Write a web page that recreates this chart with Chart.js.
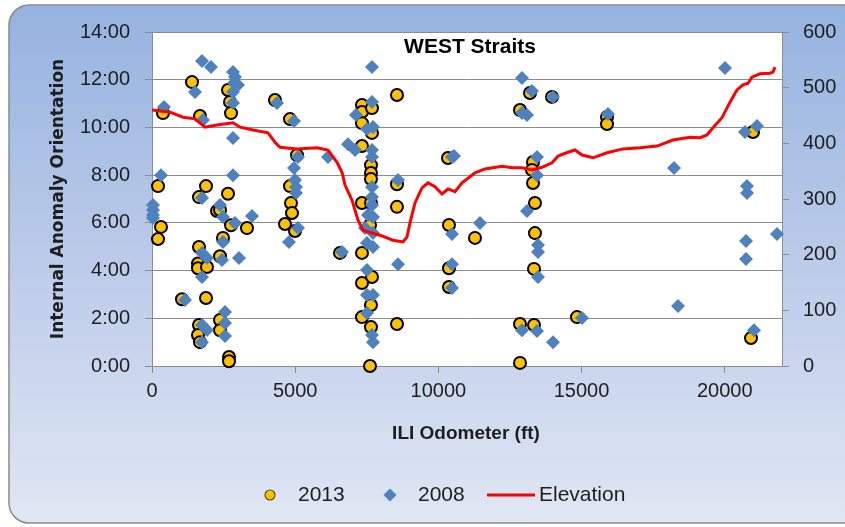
<!DOCTYPE html>
<html>
<head>
<meta charset="utf-8">
<script src="https://cdn.jsdelivr.net/npm/chart.js@4/dist/chart.umd.min.js"></script>
<style>
  html, body { margin: 0; padding: 0; background: #ffffff; }
  #wrap { width: 845px; height: 527px; }
</style>
</head>
<body>
<div id="wrap"><canvas id="c" width="845" height="527"></canvas></div>
<script>
// Anomaly orientation (clock hours) against ILI odometer (ft), 2013 inspection
const odo2013 = [384, 210, 314, 210, 1397, 1676, 1641, 1886, 1641, 1606, 1606, 1920, 1048, 1886, 1641, 1606, 1676,
  2375, 2375, 2689, 2689, 2654, 2724, 2759, 2654, 2270, 2375, 2759, 3317, 2479, 2375,
  4295, 4819, 5063, 4819, 4854, 4889, 4644, 4994, 6565,
  7333, 7333, 7682, 7333, 7682, 7333, 7647, 7647, 7647, 7333, 7647, 7613, 7333, 7682, 7333, 7647, 7333, 7647, 7613,
  8555, 8555, 8555, 8555,
  10336, 10371, 10371, 10371, 11279,
  12851, 13200, 13968, 13305, 13270, 13305, 13374, 13374, 13340, 12851, 13340, 12851, 14841,
  15889, 15889, 20987, 20917];
const orient2013 = [10.6, 7.54, 5.83, 5.32, 11.9, 10.48, 7.08, 7.54, 4.99, 4.3, 4.1, 4.15, 2.8, 2.85, 1.72, 1.3, 1.0,
  1.93, 1.5, 0.38, 0.2, 11.57, 11.07, 10.6, 7.22, 6.5, 6.54, 5.9, 5.78, 5.37, 4.6,
  11.15, 10.35, 8.84, 7.54, 6.83, 6.41, 5.95, 5.66, 4.74,
  10.94, 10.65, 10.81, 10.18, 9.77, 9.22, 8.42, 8.09, 7.84, 6.83, 6.83, 5.91, 4.74, 3.73, 3.48, 2.56, 2.05, 1.63, 0.0,
  11.36, 7.62, 6.67, 1.76,
  8.72, 5.91, 4.1, 3.31, 5.37,
  10.73, 11.44, 11.28, 8.55, 8.22, 7.67, 6.83, 5.57, 4.07, 1.76, 1.72, 0.13, 2.05,
  10.44, 10.14, 9.81, 1.17];

// 2008 inspection
const odo2008 = [35, 35, 35, 35, 314, 419, 1502, 1746, 2060, 1781, 1746, 2375, 2479, 3492, 2898, 2479, 2444, 3038,
  1746, 1921, 1746, 1152, 2549, 2549, 1746, 1921, 2549, 1746, 2829, 2898, 2863, 3003, 2829, 2829, 2829, 2829,
  4365, 4959, 5098, 4959, 4994, 5028, 5028, 5098, 4784, 6146, 6635,
  7124, 6844, 7089, 7682, 7682, 7508, 7717, 7682, 7682, 7682, 7682, 7682, 7543, 7717, 7438, 7717, 7508, 7717,
  7508, 7508, 7717, 7508, 7682, 7717,
  8590, 8590,
  10476, 10546, 10476, 10476, 10476, 11454,
  12920, 13270, 14003, 12920, 13095, 13444, 13444, 13095, 13479, 13479, 13479, 12920, 13444, 14003, 15016,
  15924, 18228, 18368, 20009, 20708, 21126, 20777, 20777, 20742, 20742, 21825, 21022];
const orient2008 = [6.75, 6.54, 6.33, 6.2, 8.0, 10.86, 11.49, 12.78, 12.53, 10.31, 7.04, 6.75, 6.25, 6.29, 5.99, 5.2, 4.44, 4.53,
  4.74, 4.53, 3.73, 2.77, 2.26, 1.8, 1.72, 1.51, 1.26, 1.0, 12.32, 12.11, 11.86, 11.78, 11.49, 11.02, 9.56, 8.0,
  11.02, 10.27, 8.76, 8.3, 7.8, 7.5, 7.25, 5.78, 5.2, 8.76, 4.78,
  10.52, 9.3, 9.05, 12.53, 11.07, 9.93, 10.02, 9.05, 8.76, 7.5, 7.08, 6.75, 6.33, 6.25, 5.78, 5.57, 5.16, 4.99,
  4.02, 2.98, 2.98, 2.22, 1.3, 1.0,
  7.8, 4.27,
  8.76, 8.8, 5.53, 4.27, 3.27, 5.99,
  12.07, 11.53, 11.28, 10.6, 10.52, 8.76, 8.0, 6.5, 5.07, 4.78, 3.73, 1.5, 1.47, 1.0, 2.01,
  10.56, 8.3, 2.51, 12.49, 9.81, 10.06, 7.54, 7.25, 5.24, 4.48, 5.53, 1.5];

// Pipeline elevation profile (ft) along the odometer
const elevOdo = [0, 629, 1083, 1502, 1851, 2270, 2829, 3073, 3527, 4051, 4295, 4470, 5063, 5762, 6146, 6460, 6635,
  6740, 6984, 7194, 7368, 7682, 7962, 8416, 8765, 8905, 9009, 9184, 9428, 9638, 9882, 10127, 10336, 10581, 10825,
  11105, 11279, 11628, 12222, 12571, 12920, 13270, 13619, 13968, 14178, 14527, 14771, 15016, 15400, 15889, 16447,
  17041, 17635, 18193, 18787, 19136, 19381, 19590, 19905, 20184, 20428, 20638, 20813, 20952, 21231, 21580, 21685, 21755];
const elevation = [460, 456, 447, 444, 429, 433, 437, 429, 424, 419, 402, 393, 390, 392, 388, 366, 348,
  325, 298, 262, 244, 239, 235, 226, 223, 232, 257, 293, 320, 329, 322, 309, 318, 313, 329,
  340, 347, 354, 359, 356, 356, 352, 357, 365, 377, 384, 388, 379, 374, 383, 390,
  392, 395, 406, 411, 410, 415, 428, 446, 474, 496, 505, 508, 519, 525, 526, 528, 537];

// Axis ticks
const odoTicks = [0, 5000, 10000, 15000, 20000];
const clockTicks = [0, 2, 4, 6, 8, 10, 12, 14];
const elevTicks = [0, 100, 200, 300, 400, 500, 600];

const seriesNames = ['2013', '2008', 'Elevation'];
const chartTitle = 'WEST Straits';
const xTitle = 'ILI Odometer (ft)';
const yTitle = 'Internal Anomaly Orientation';

const toPts = (xs, ys) => xs.map((x, i) => ({ x: x, y: ys[i] }));

const TEXT = '#1e1e1e';
const GRID = '#8c8c8c';
const BASE_FONT = "'Liberation Sans', Arial, sans-serif";
const YELLOW = '#FFC000';
const BLUE = '#4F81BD';
const RED = '#FF0000';

const frame = {
  id: 'frame',
  beforeDraw(chart) {
    const ctx = chart.ctx;
    const a = chart.chartArea;
    ctx.save();
    // rounded chart frame with vertical gradient
    const g = ctx.createLinearGradient(0, 5, 0, 523);
    g.addColorStop(0, '#95b3df');
    g.addColorStop(0.5, '#bccbe9');
    g.addColorStop(1, '#e0e7f4');
    const x0 = 9, y0 = 5, x1 = 880, y1 = 523, r = 20;
    ctx.beginPath();
    ctx.moveTo(x0 + r, y0);
    ctx.lineTo(x1 - r, y0);
    ctx.arcTo(x1, y0, x1, y0 + r, r);
    ctx.lineTo(x1, y1 - r);
    ctx.arcTo(x1, y1, x1 - r, y1, r);
    ctx.lineTo(x0 + r, y1);
    ctx.arcTo(x0, y1, x0, y1 - r, r);
    ctx.lineTo(x0, y0 + r);
    ctx.arcTo(x0, y0, x0 + r, y0, r);
    ctx.closePath();
    ctx.fillStyle = g;
    ctx.fill();
    ctx.lineWidth = 1.5;
    ctx.strokeStyle = '#8a8a8a';
    ctx.stroke();
    // plot area
    ctx.fillStyle = '#ffffff';
    ctx.fillRect(a.left, a.top, a.right - a.left, a.bottom - a.top);
    ctx.restore();
  },
  afterDraw(chart) {
    const ctx = chart.ctx;
    ctx.save();
    ctx.fillStyle = '#000000';
    ctx.textAlign = 'center';
    ctx.textBaseline = 'middle';
    ctx.font = "bold 21px " + BASE_FONT;
    ctx.fillText(chartTitle, 470, 47);
    ctx.font = "bold 19px " + BASE_FONT;
    ctx.fillStyle = TEXT;
    ctx.fillText(xTitle, 466, 434);

    // legend
    const ly = 495;
    ctx.fillStyle = YELLOW; ctx.strokeStyle = '#6b5000'; ctx.lineWidth = 1.2;
    ctx.beginPath(); ctx.arc(270, ly, 5, 0, Math.PI * 2); ctx.fill(); ctx.stroke();
    ctx.fillStyle = BLUE;
    Chart.helpers.drawPoint(ctx, { pointStyle: 'rectRot', radius: 6.5, borderWidth: 0 }, 390, ly);
    ctx.strokeStyle = RED; ctx.lineWidth = 3;
    ctx.beginPath(); ctx.moveTo(487, ly); ctx.lineTo(535, ly); ctx.stroke();
    ctx.fillStyle = TEXT;
    ctx.textAlign = 'left';
    ctx.font = "21px " + BASE_FONT;
    ctx.fillText(seriesNames[0], 298, ly);
    ctx.fillText(seriesNames[1], 418, ly);
    ctx.fillText(seriesNames[2], 539, ly);
    ctx.restore();
  }
};

const tickFont = { family: BASE_FONT, size: 20 };

new Chart(document.getElementById('c'), {
  type: 'scatter',
  data: {
    datasets: [
      {
        label: seriesNames[2],
        type: 'line',
        data: toPts(elevOdo, elevation),
        yAxisID: 'y2',
        borderColor: RED,
        borderWidth: 3,
        pointRadius: 0,
        tension: 0,
        fill: false,
        order: 1
      },
      {
        label: seriesNames[1],
        data: toPts(odo2008, orient2008),
        yAxisID: 'y',
        pointStyle: 'rectRot',
        pointRadius: 7,
        backgroundColor: BLUE,
        borderColor: BLUE,
        borderWidth: 0,
        clip: false,
        order: 2
      },
      {
        label: seriesNames[0],
        data: toPts(odo2013, orient2013),
        yAxisID: 'y',
        pointStyle: 'circle',
        pointRadius: 6,
        backgroundColor: YELLOW,
        borderColor: '#000000',
        borderWidth: 2,
        clip: false,
        order: 3
      }
    ]
  },
  options: {
    responsive: false,
    animation: false,
    devicePixelRatio: 1,
    layout: { padding: { left: 0, right: 0, top: 32, bottom: 60 } },
    plugins: { legend: { display: false }, tooltip: { enabled: false } },
    scales: {
      x: {
        type: 'linear',
        position: 'bottom',
        min: 0,
        max: 22000,
        afterBuildTicks: s => { s.ticks = odoTicks.map(v => ({ value: v })); },
        afterFit: s => { s.height = 101; },
        grid: { drawOnChartArea: false, drawTicks: true, tickLength: 7, color: GRID },
        border: { color: GRID, width: 1 },
        ticks: { font: tickFont, color: TEXT, padding: 6, maxRotation: 0, callback: v => String(v) }
      },
      y: {
        position: 'left',
        min: 0,
        max: 14,
        afterBuildTicks: s => { s.ticks = clockTicks.map(v => ({ value: v })); },
        afterFit: s => { s.width = 152; },
        grid: { color: GRID, lineWidth: 1, tickLength: 7 },
        border: { color: GRID, width: 1 },
        ticks: { font: tickFont, color: TEXT, padding: 15, callback: v => v + ':00' },
        title: {
          display: true,
          text: yTitle,
          color: TEXT,
          font: { family: "'DejaVu Sans', sans-serif", size: 17, weight: 'bold' },
          padding: { top: 48, bottom: 0 }
        }
      },
      y2: {
        position: 'right',
        min: 0,
        max: 600,
        afterBuildTicks: s => { s.ticks = elevTicks.map(v => ({ value: v })); },
        afterFit: s => { s.width = 63; },
        grid: { drawOnChartArea: false, tickLength: 7, color: GRID },
        border: { color: GRID, width: 1 },
        ticks: { font: tickFont, color: TEXT, padding: 14 }
      }
    }
  },
  plugins: [frame]
});
</script>
</body>
</html>
